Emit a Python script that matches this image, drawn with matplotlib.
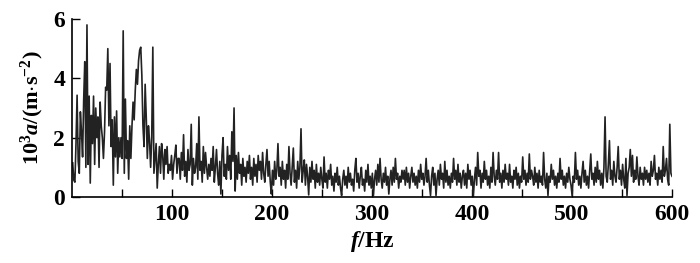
import numpy as np
import matplotlib
matplotlib.use("Agg")
import matplotlib.pyplot as plt

# Amplitude readings (10^3 a, m/s^2) at ~1.1 Hz steps
amp_0_106 = [1.15, 0.57, 0.5, 1.8, 3.43, 1.2, 0.8, 2.87, 2.2, 1.35,
             3.27, 4.56, 1.0, 5.8, 1.1, 3.4, 0.47, 2.75, 1.8, 3.4,
             1.1, 3.0, 2.0, 2.7, 1.0, 3.2, 2.4, 2.0, 1.3, 2.2,
             3.7, 3.6, 5.0, 2.4, 4.5, 1.7, 2.6, 0.4, 2.7, 1.35,
             2.9, 0.8, 2.0, 1.35, 2.0, 1.3, 5.6, 0.8, 3.3, 1.3,
             1.9, 0.6, 2.4, 1.3, 2.4, 3.2, 2.6, 3.6, 4.3, 3.8,
             4.6, 4.95, 5.05, 4.1, 2.4, 1.7, 3.8, 2.7, 1.3, 2.4,
             1.9, 1.0, 2.0, 5.05, 0.8, 1.3, 1.8, 0.3, 1.1, 1.7,
             0.8, 1.8, 1.4, 0.6, 1.6, 1.1, 1.7, 0.8, 1.1, 0.9,
             1.4, 0.6, 1.1, 1.4, 1.75, 0.8, 1.3]
amp_106_160 = [1.3, 0.6, 1.5, 0.9, 2.1, 0.7, 1.2, 0.5, 1.6, 0.9,
               1.1, 2.45, 0.4, 1.3, 0.8, 1.0, 1.8, 0.6, 2.7, 0.9,
               1.2, 0.5, 1.7, 0.8, 1.5, 1.0, 0.6, 1.1, 0.7, 1.3,
               0.9, 1.7, 0.5, 1.0, 1.6, 0.8, 0.4, 1.2, 0.1, 1.4,
               2.0, 0.7, 1.1, 0.6, 1.7, 0.9, 1.4, 0.6, 2.2]
amp_160_230 = [1.2, 3.0, 0.2, 1.4, 0.6, 1.5, 0.8, 1.1, 0.4, 1.3,
               0.7, 1.0, 0.5, 1.2, 0.8, 1.4, 0.6, 1.0, 0.4, 1.3,
               0.7, 1.1, 0.5, 1.4, 0.9, 1.2, 0.6, 1.5, 0.8, 0.5,
               1.1, 1.6, 0.7, 1.2, 0.5, 0.1, 0.9, 0.4, 1.2, 0.6,
               0.9, 1.8, 0.7, 1.0, 0.4, 1.2, 0.6, 0.9, 0.3, 1.1,
               0.6, 1.7, 0.8, 0.4, 1.0, 1.65, 0.5, 0.9, 0.3, 1.2,
               0.6, 1.0, 2.3, 0.5]
amp_230_330 = [0.9, 1.25, 0.4, 1.1, 0.7, 0.07, 1.0, 0.5, 1.2, 0.6,
               0.9, 0.3, 1.1, 0.5, 0.8, 0.4, 1.0, 0.6, 0.3, 1.35,
               0.5, 0.8, 0.3, 0.9, 0.6, 1.1, 0.4, 0.7, 0.2, 0.8,
               0.5, 1.0, 0.4, 0.7, 0.3, 0.05, 0.6, 0.9, 0.4, 0.7,
               0.3, 1.0, 0.5, 0.8, 0.4, 0.6, 0.2, 0.9, 1.3, 0.5,
               0.8, 0.3, 0.7, 1.0, 0.4, 0.6, 0.2, 0.9, 0.5, 1.1,
               0.4, 0.7, 0.3, 0.8, 0.05, 0.6, 0.9, 0.4, 1.1, 0.5,
               1.3, 0.6, 0.3, 0.8, 0.5, 1.0, 0.4, 0.7, 0.1, 0.6,
               0.9, 0.4, 1.0, 0.5, 1.3, 0.6, 0.8, 0.3, 0.7, 0.5,
               0.9]
amp_330_460 = [0.6, 0.9, 0.4, 1.0, 0.5, 0.8, 0.3, 0.7, 1.0, 0.5,
               0.8, 0.4, 0.7, 0.3, 0.9, 0.5, 1.1, 0.6, 0.8, 0.4,
               0.7, 1.3, 0.5, 0.9, 0.4, 0.05, 0.7, 1.0, 0.4, 0.8,
               0.05, 0.6, 0.9, 0.4, 1.1, 0.6, 0.8, 0.3, 1.2, 0.5,
               0.9, 0.4, 0.7, 0.3, 0.8, 0.5, 1.3, 0.6, 0.9, 0.4,
               1.1, 0.5, 0.8, 0.3, 0.7, 0.9, 0.4, 0.8, 0.3, 1.1,
               0.6, 0.9, 0.4, 0.7, 0.0, 0.6, 1.0, 0.4, 1.5, 0.7,
               0.9, 0.3, 0.8, 0.5, 1.2, 0.6, 0.9, 0.4, 0.7, 0.3,
               1.0, 0.5, 1.5, 0.7, 0.4, 0.9, 0.6, 1.5, 0.5, 0.8,
               0.3, 0.9, 0.5, 1.1, 0.6, 0.8, 0.4, 1.1, 0.5, 0.7,
               0.3, 0.9, 0.6, 1.0, 0.4, 0.8, 0.3, 0.7, 0.5, 1.35,
               0.6, 0.9, 0.4, 0.8, 0.5, 1.45, 0.6, 0.9]
amp_460_600 = [0.7, 0.4, 1.0, 0.5, 0.8, 0.3, 0.9, 0.5, 0.7, 0.4,
               1.5, 0.6, 0.3, 0.8, 0.05, 0.7, 0.5, 1.1, 0.6, 0.9,
               0.4, 0.7, 0.3, 0.8, 0.5, 1.3, 0.6, 0.9, 0.4, 0.7,
               0.3, 0.8, 0.5, 1.0, 0.6, 0.4, 0.05, 0.7, 0.5, 1.5,
               0.6, 0.9, 0.4, 0.7, 0.3, 0.8, 1.2, 0.5, 0.9, 0.4,
               0.7, 0.3, 0.9, 1.45, 0.6, 0.8, 0.4, 1.0, 0.5, 1.2,
               0.6, 0.9, 0.4, 0.8, 0.3, 1.0, 2.7, 0.7, 0.5, 1.1,
               1.9, 0.6, 0.9, 0.4, 1.2, 0.7, 0.5, 1.0, 1.7, 0.6,
               0.9, 0.4, 1.1, 0.6, 0.3, 1.3, 0.05, 0.8, 1.0, 1.6,
               0.7, 1.4, 0.5, 0.9, 0.6, 1.35, 0.7, 0.4, 1.0, 0.6,
               0.8, 0.4, 1.0, 0.6, 0.9, 0.5, 0.8, 0.4, 1.2, 0.7,
               0.9, 1.4, 0.6, 0.8, 0.4, 1.0, 0.6, 0.9, 0.5, 1.7,
               0.7, 0.9, 1.3, 0.6, 0.4, 2.45, 0.8, 0.7]

f_start, f_end = 0.7, 600.0
x_ticks = [100, 200, 300, 400, 500, 600]
x_minor_ticks = [50, 150, 250, 350, 450, 550]
y_ticks = [0, 2, 4, 6]

amp = np.array(amp_0_106 + amp_106_160 + amp_160_230 + amp_230_330
               + amp_330_460 + amp_460_600)
freq = np.linspace(f_start, f_end, len(amp))

plt.rcParams['mathtext.fontset'] = 'custom'
plt.rcParams['mathtext.rm'] = 'Liberation Serif:bold'
plt.rcParams['mathtext.it'] = 'Liberation Serif:bold:italic'
plt.rcParams['mathtext.bf'] = 'Liberation Serif:bold'

fig = plt.figure(figsize=(7.0, 2.63), dpi=100)
ax = fig.add_axes([72 / 700, 1 - 197 / 263, 600 / 700, 178 / 263])
ax.plot(freq, amp, color='#222222', linewidth=1.2)

ax.set_xlim(0, 600)
ax.set_ylim(0, 6)
ax.set_xticks(x_ticks)
ax.set_xticks(x_minor_ticks, minor=True)
ax.set_yticks(y_ticks)
for s in ['top', 'right']:
    ax.spines[s].set_visible(False)
for s in ['left', 'bottom']:
    ax.spines[s].set_linewidth(1.2)
ax.tick_params(which='both', direction='in', length=6, width=1.0, pad=5)
for lab in ax.get_xticklabels() + ax.get_yticklabels():
    lab.set_fontfamily('Liberation Serif')
    lab.set_fontweight('bold')
    lab.set_fontsize(17)

ax.set_xlabel(r'$f\mathrm{/Hz}$', fontsize=17, labelpad=3)
ax.set_ylabel(r'$\mathrm{10^3}a\mathrm{/(m{\cdot}s^{-2})}$', fontsize=16, labelpad=5)

fig.savefig('out.png', dpi=100)
